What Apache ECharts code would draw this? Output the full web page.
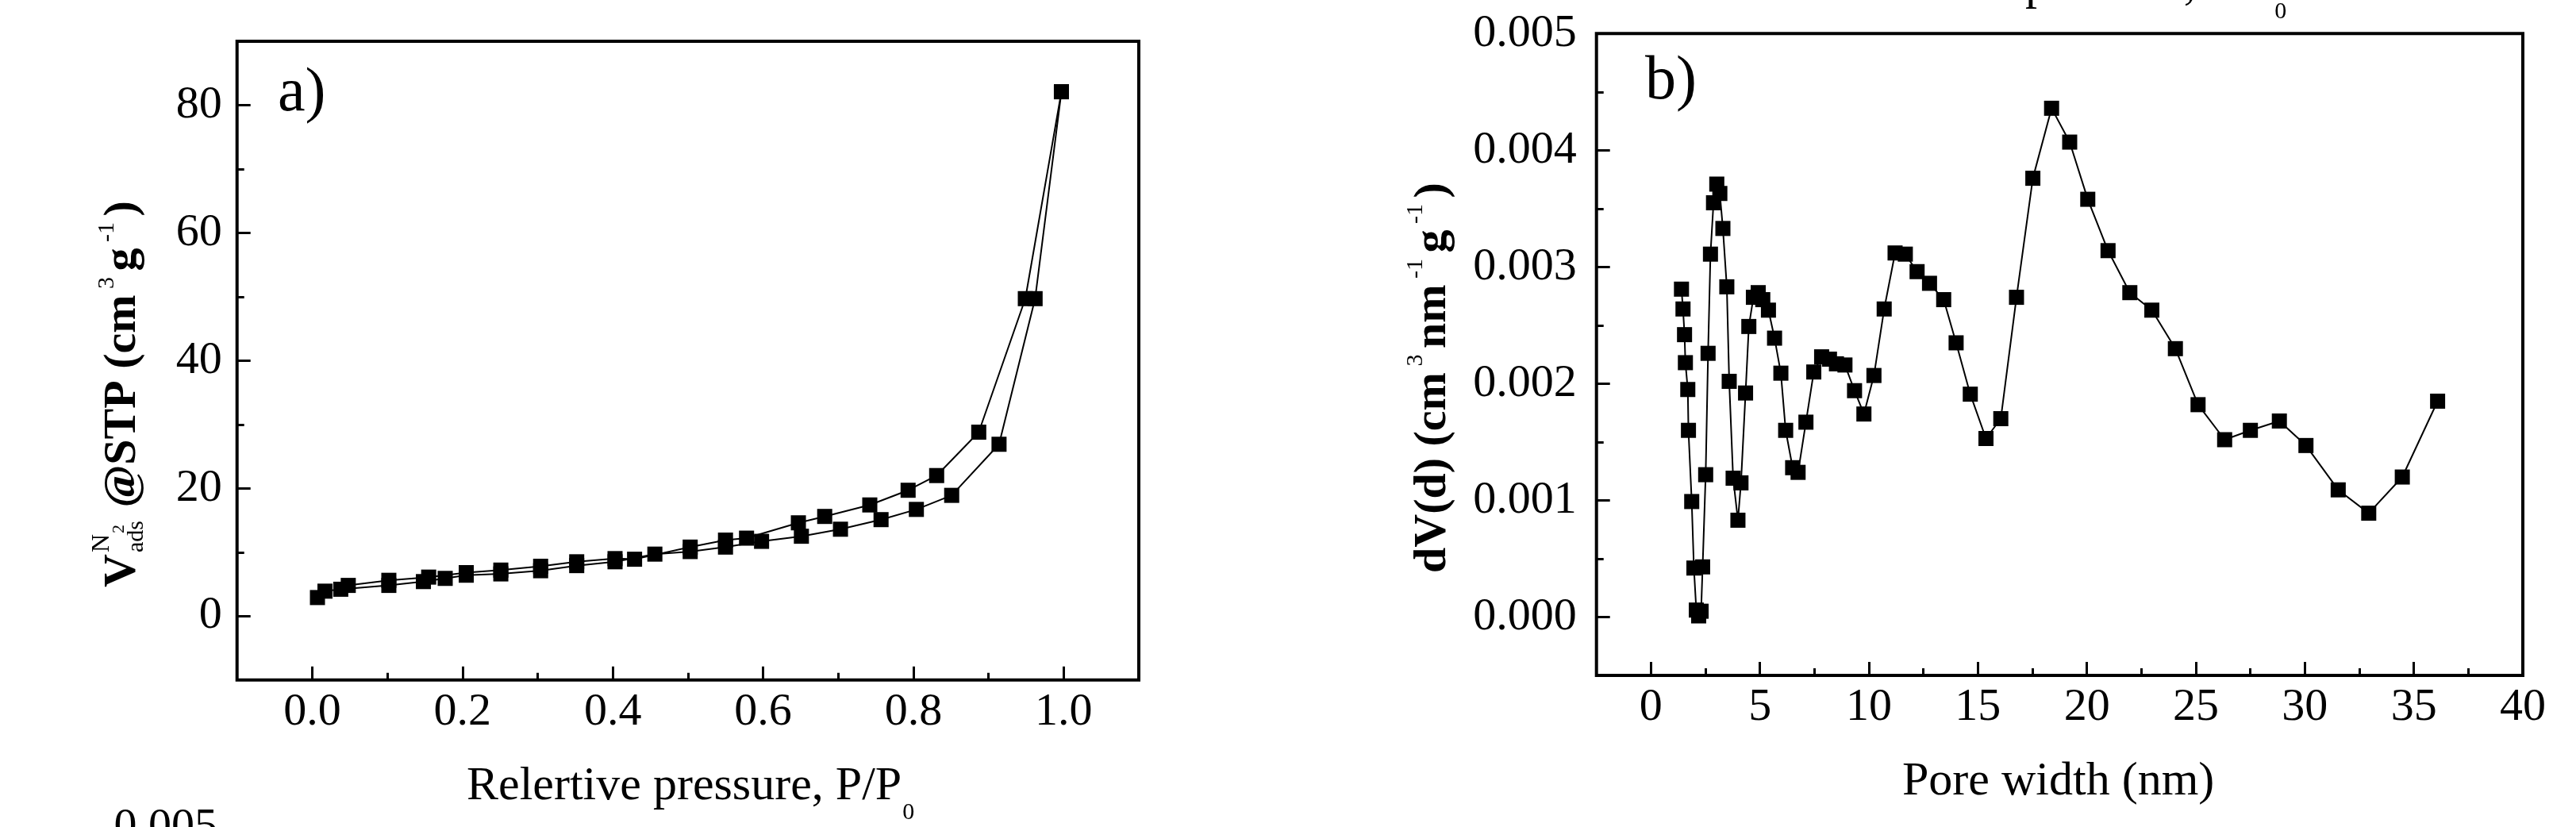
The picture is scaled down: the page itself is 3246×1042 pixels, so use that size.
<!DOCTYPE html>
<html><head><meta charset="utf-8">
<script src="https://cdn.jsdelivr.net/npm/echarts@6/dist/echarts.min.js"></script>
<style>html,body{margin:0;padding:0;background:#fff;overflow:hidden}#c{width:3246px;height:1042px}</style>
</head><body><div id="c"></div>
<script>
// ---------- data ----------
const adsP = [0.007, 0.017, 0.038, 0.102, 0.148, 0.177, 0.205, 0.251, 0.304, 0.352, 0.403, 0.456, 0.503, 0.550, 0.598, 0.651, 0.703, 0.757, 0.804, 0.851, 0.914, 0.962, 0.997];
const adsV = [2.9, 3.9, 4.2, 4.8, 5.4, 5.9, 6.4, 6.6, 7.1, 7.9, 8.5, 9.7, 10.1, 10.8, 11.7, 12.5, 13.6, 15.1, 16.7, 18.9, 26.9, 49.7, 82.1];
const desP = [0.997, 0.949, 0.887, 0.831, 0.793, 0.742, 0.682, 0.647, 0.578, 0.550, 0.503, 0.429, 0.403, 0.352, 0.304, 0.251, 0.205, 0.155, 0.102, 0.048];
const desV = [82.1, 49.7, 28.8, 22.0, 19.7, 17.4, 15.6, 14.6, 12.2, 11.9, 10.8, 8.9, 9.0, 8.5, 7.8, 7.2, 6.8, 6.1, 5.6, 4.8];

const poreW = [1.40,1.47,1.54,1.58,1.69,1.72,1.87,1.97,2.08,2.19,2.30,2.37,2.51,2.62,2.73,2.87,3.02,3.16,3.30,3.48,3.59,3.77,3.99,4.13,4.34,4.49,4.70,4.92,5.13,5.39,5.67,5.96,6.18,6.50,6.75,7.11,7.47,7.83,8.19,8.51,8.90,9.34,9.77,10.23,10.70,11.20,11.67,12.21,12.78,13.43,14.00,14.65,15.37,16.05,16.77,17.52,18.38,19.21,20.04,20.97,21.97,22.98,24.06,25.10,26.32,27.50,28.83,30.05,31.53,32.93,34.47,36.09];
const dVd = [0.00281,0.00264,0.00242,0.00218,0.00195,0.00160,0.00099,0.00042,0.00006,0.00001,0.00005,0.00043,0.00122,0.00226,0.00311,0.00355,0.00371,0.00363,0.00333,0.00283,0.00202,0.00119,0.00083,0.00115,0.00192,0.00249,0.00274,0.00278,0.00272,0.00263,0.00239,0.00209,0.00160,0.00128,0.00124,0.00167,0.00210,0.00223,0.00221,0.00217,0.00216,0.00194,0.00174,0.00207,0.00264,0.00312,0.00311,0.00296,0.00286,0.00272,0.00235,0.00191,0.00153,0.00170,0.00274,0.00376,0.00436,0.00407,0.00358,0.00314,0.00278,0.00263,0.00230,0.00182,0.00152,0.00160,0.00168,0.00147,0.00109,0.00089,0.00120,0.00185];

const aXTicks = [0, 0.2, 0.4, 0.6, 0.8, 1.0];
const aXMinor = [0.1, 0.3, 0.5, 0.7, 0.9];
const aYTicks = [0, 20, 40, 60, 80];
const aYMinor = [10, 30, 50, 70];
const bXTicks = [0, 5, 10, 15, 20, 25, 30, 35];
const bXLabels = [0, 5, 10, 15, 20, 25, 30, 35, 40];
const bXMinor = [2.5, 7.5, 12.5, 17.5, 22.5, 27.5, 32.5, 37.5];
const bYTicks = [0, 0.001, 0.002, 0.003, 0.004];
const bYLabels = [0, 0.001, 0.002, 0.003, 0.004, 0.005];
const bYMinor = [0.0005, 0.0015, 0.0025, 0.0035, 0.0045];

// ---------- layout ----------
const F = 'Liberation Serif';
const GA = {left: 298.7, top: 52, width: 1136.3, height: 804.7};
const GB = {left: 2011.7, top: 42.3, width: 1167.3, height: 808.7};
const FS = 58;
const FT = 60;

const mctx = document.createElement('canvas').getContext('2d');
function fstr(s, b) { return (b ? 'bold ' : '') + s + 'px "' + F + '"'; }
function tw(t, s, b) { mctx.font = fstr(s, b); return mctx.measureText(t).width; }
function txt(t, x, base, s, b, align) {
  return {type: 'text', x: x, y: base - 0.3375 * s, silent: true,
    style: {text: t, font: fstr(s, b), fill: '#000', textAlign: align || 'left', textVerticalAlign: 'middle', align: align || 'left', verticalAlign: 'middle'}};
}
function seq(pieces, x0) {
  let x = x0; const out = [];
  for (const p of pieces) { out.push(txt(p[0], x, p[3], p[1], p[2])); x += tw(p[0], p[1], p[2]); }
  return {els: out, end: x};
}

function grid(g, show) {
  return Object.assign({show: show, borderColor: '#000', borderWidth: 4, backgroundColor: 'transparent', containLabel: false, outerBoundsMode: 'none'}, g);
}
function majorAxis(pos, gi, min, max, ticks, labels, fmt, margin) {
  return {type: 'value', gridIndex: gi, min: min, max: max, position: pos,
    axisLine: {show: false, onZero: false}, splitLine: {show: false},
    axisTick: {show: true, inside: true, length: 17, lineStyle: {color: '#000', width: 3}, customValues: ticks},
    axisLabel: {show: true, customValues: labels, formatter: fmt, margin: margin, color: '#000', fontFamily: F, fontSize: FS}};
}
function minorAxis(pos, gi, min, max, ticks) {
  return {type: 'value', gridIndex: gi, min: min, max: max, position: pos,
    axisLine: {show: false, onZero: false}, splitLine: {show: false}, axisLabel: {show: false},
    axisTick: {show: true, inside: true, length: 9, lineStyle: {color: '#000', width: 3}, customValues: ticks}};
}
function lineSeries(xi, yi, xs, ys) {
  return {type: 'line', xAxisIndex: xi, yAxisIndex: yi, data: xs.map((x, i) => [x, ys[i]]),
    symbol: 'rect', symbolSize: 19, showSymbol: true, showAllSymbol: true,
    lineStyle: {color: '#000', width: 2}, itemStyle: {color: '#000'}, z: 3};
}

// ---------- titles ----------
const SUP = 30;
const yaEls = [];
const wV = tw('V', FS, true);
yaEls.push(txt('V', 0, 0, FS, true));
const sx = wV + 2;
yaEls.push(txt('N', sx, -36, 32, false));
yaEls.push(txt('2', sx + tw('N', 32, false) + 1, -17, 22, false));
yaEls.push(txt('ads', sx, 7, SUP, false));
const x2 = sx + Math.max(tw('N', 32, false) + tw('2', 22, false) + 1, tw('ads', SUP, false)) + 2;
yaEls.push(...seq([[' @STP (cm', FS, true, 0], [' 3 ', SUP, false, -30], ['g', FS, true, 0], [' -1 ', SUP, false, -30], [')', FS, true, 0]], x2).els);

const ybEls = seq([['dV(d) (cm', FS, true, 0], [' 3 ', SUP, false, -32], ['nm', FS, true, 0], [' -1 ', SUP, false, -32], ['g', FS, true, 0], [' -1 ', SUP, false, -32], [')', FS, true, 0]], 0).els;

function xTitleA(dx, dy) {
  const s = seq([['Relertive pressure, P/P', FT, false, 0]], 0);
  return {type: 'group', x: 588 + dx, y: 1011 + dy, silent: true,
    children: s.els.concat([txt('0', s.end + 1, 23, SUP, false)])};
}

const graphics = [
  {type: 'group', x: 175, y: 740, rotation: Math.PI / 2, silent: true, children: yaEls},
  {type: 'group', x: 1826, y: 722, rotation: Math.PI / 2, silent: true, children: ybEls},
  xTitleA(0, 0),
  xTitleA(1729, -1009),
  {type: 'group', x: 2397, y: 1005, silent: true, children: [txt('Pore width (nm)', 0, 0, FT, false)]},
  txt('a)', 350, 145, 78, false),
  txt('b)', 2073, 130, 78, false),
  txt('0.005', 274, 1062, FS, false, 'right')
];

const chart = echarts.init(document.getElementById('c'), null, {renderer: 'canvas', width: 3246, height: 1042});
chart.setOption({
  animation: false,
  backgroundColor: '#fff',
  grid: [grid(GA, true), grid(GA, false), grid(GB, true), grid(GB, false)],
  xAxis: [
    majorAxis('bottom', 0, -0.1, 1.1, aXTicks, aXTicks, v => v.toFixed(1), 12),
    minorAxis('bottom', 1, -0.1, 1.1, aXMinor),
    majorAxis('bottom', 2, -2.5, 40, bXTicks, bXLabels, v => String(v), 12),
    minorAxis('bottom', 3, -2.5, 40, bXMinor)
  ],
  yAxis: [
    majorAxis('left', 0, -10, 90, aYTicks, aYTicks, v => String(v), 19),
    minorAxis('left', 1, -10, 90, aYMinor),
    majorAxis('left', 2, -0.0005, 0.005, bYTicks, bYLabels, v => v.toFixed(3), 25),
    minorAxis('left', 3, -0.0005, 0.005, bYMinor)
  ],
  series: [
    lineSeries(0, 0, adsP, adsV),
    lineSeries(0, 0, desP, desV),
    lineSeries(2, 2, poreW, dVd)
  ],
  graphic: graphics
});
</script>
</body></html>
